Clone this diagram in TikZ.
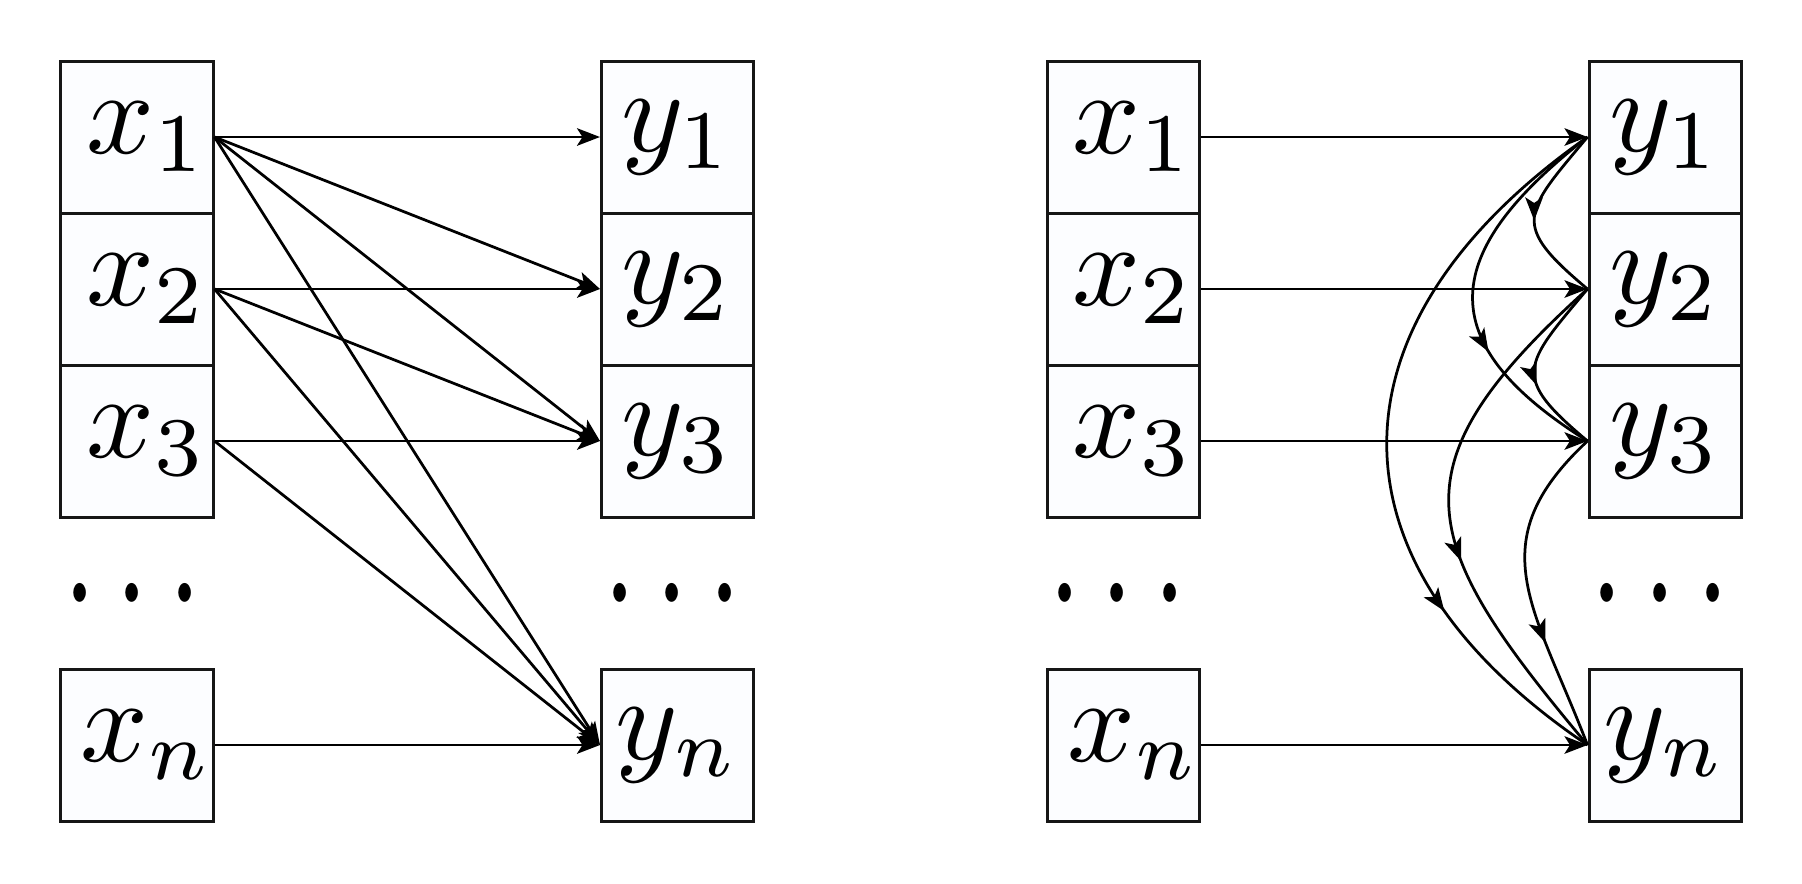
\documentclass[tikz,border=0pt]{standalone}
\usetikzlibrary{arrows.meta,decorations.markings}
\definecolor{boxfill}{RGB}{252,253,255}
\definecolor{boxline}{RGB}{22,22,22}
\tikzset{
  tipstyle/.tip={Stealth[length=4.6pt,width=3.5pt,inset=1.1pt]},
  box/.style={draw=boxline, line width=0.6pt, fill=boxfill, minimum width=30.4pt,
    minimum height=30.4pt, inner sep=0pt},
  dotsnode/.style={inner sep=0pt, anchor=base},
  conn/.style={line width=0.55pt, -tipstyle},
  curv/.style={line width=0.55pt, postaction={decorate},
    decoration={markings, mark=at position #1 with {\arrow{tipstyle}}}},
}
\newcommand{\lbl}[1]{\scalebox{2.38}{$#1$}}
\newcommand{\xlbl}[1]{\hspace*{4pt}\scalebox{2.38}{$#1$}}
\newcommand{\mydots}{\scalebox{2.38}[3.57]{$\cdots$}}
\begin{document}
\begin{tikzpicture}[x=0.2pt,y=0.2pt]
\useasboundingbox (0,0) rectangle (1802,-883);
% ---------- left panel ----------
\node[box] (ax1) at (137,-137) {\xlbl{x_1}};
\node[box] (ax2) at (137,-289) {\xlbl{x_2}};
\node[box] (ax3) at (137,-441) {\xlbl{x_3}};
\node[box] (axn) at (137,-745) {\xlbl{x_n}};
\node[dotsnode] (adx) at (132.5,-637) {\mydots};
\node[box] (ay1) at (677.5,-137) {\lbl{y_1}};
\node[box] (ay2) at (677.5,-289) {\lbl{y_2}};
\node[box] (ay3) at (677.5,-441) {\lbl{y_3}};
\node[box] (ayn) at (677.5,-745) {\lbl{y_n}};
\node[dotsnode] (ady) at (672.5,-637) {\mydots};
\draw[conn] (ax1.east) -- (ay1.west);
\draw[conn] (ax1.east) -- (ay2.west);
\draw[conn] (ax1.east) -- (ay3.west);
\draw[conn] (ax1.east) -- (ayn.west);
\draw[conn] (ax2.east) -- (ay2.west);
\draw[conn] (ax2.east) -- (ay3.west);
\draw[conn] (ax2.east) -- (ayn.west);
\draw[conn] (ax3.east) -- (ay3.west);
\draw[conn] (ax3.east) -- (ayn.west);
\draw[conn] (axn.east) -- (ayn.west);
% ---------- right panel ----------
\node[box] (bx1) at (1123.5,-137) {\xlbl{x_1}};
\node[box] (bx2) at (1123.5,-289) {\xlbl{x_2}};
\node[box] (bx3) at (1123.5,-441) {\xlbl{x_3}};
\node[box] (bxn) at (1123.5,-745) {\xlbl{x_n}};
\node[dotsnode] (bdx) at (1117.5,-637) {\mydots};
\node[box] (by1) at (1665,-137) {\lbl{y_1}};
\node[box] (by2) at (1665,-289) {\lbl{y_2}};
\node[box] (by3) at (1665,-441) {\lbl{y_3}};
\node[box] (byn) at (1665,-745) {\lbl{y_n}};
\node[dotsnode] (bdy) at (1660,-637) {\mydots};
\draw[conn] (bx1.east) -- (by1.west);
\draw[conn] (bx2.east) -- (by2.west);
\draw[conn] (bx3.east) -- (by3.west);
\draw[conn] (bxn.east) -- (byn.west);
\draw[curv=0.53] (by1.west) to[out=230,in=140,looseness=1.7] (by2.west);
\draw[curv=0.66] (by1.west) to[out=218,in=148,looseness=1.58] (by3.west);
\draw[curv=0.74] (by1.west) to[out=215,in=146,looseness=1.37] (byn.west);
\draw[curv=0.6] (by2.west) to[out=230,in=140,looseness=1.7] (by3.west);
\draw[curv=0.59] (by2.west) to[out=222,in=130,looseness=1.5] (byn.west);
\draw[curv=0.67] (by3.west) to[out=223,in=111,looseness=1.26] (byn.west);
\end{tikzpicture}
\end{document}
